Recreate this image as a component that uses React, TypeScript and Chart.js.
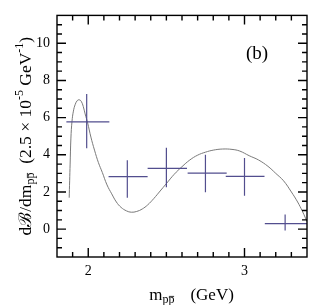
import { useEffect, useRef } from 'react';
import { Chart, registerables } from 'chart.js';

Chart.register(...registerables);

// Fitted curve
const curveX = [1.878, 1.881, 1.884, 1.889, 1.896, 1.905, 1.917, 1.93, 1.942, 1.955, 1.968, 1.98, 1.996, 2.017, 2.04, 2.065, 2.09, 2.12, 2.15, 2.18, 2.21, 2.245, 2.275, 2.31, 2.345, 2.38, 2.42, 2.46, 2.5, 2.55, 2.6, 2.65, 2.7, 2.75, 2.8, 2.86, 2.92, 2.97, 3.03, 3.09, 3.15, 3.2, 3.25, 3.3, 3.34, 3.37, 3.39, 3.4];
const curveY = [1.69, 2.6, 3.5, 4.9, 5.8, 6.35, 6.72, 6.92, 6.96, 6.88, 6.6, 6.2, 5.72, 4.95, 4.25, 3.58, 3.05, 2.38, 1.9, 1.46, 1.17, 0.98, 0.91, 0.95, 1.08, 1.3, 1.65, 2.05, 2.45, 2.95, 3.36, 3.72, 3.98, 4.14, 4.25, 4.31, 4.29, 4.2, 3.95, 3.72, 3.38, 3.0, 2.6, 2.0, 1.46, 0.97, 0.6, 0.4];

// Data points with error bars
const binCenter = [1.99, 2.25, 2.5, 2.75, 3.0, 3.26];
const binValue = [5.77, 2.82, 3.27, 3.01, 2.84, 0.3];
const binLow = [1.86, 2.13, 2.38, 2.636, 2.88, 3.13];
const binHigh = [2.135, 2.38, 2.632, 2.886, 3.128, 3.4];
const errLow = [4.35, 1.69, 2.25, 1.98, 1.8, -0.08];
const errHigh = [7.27, 3.7, 4.38, 4.0, 3.83, 0.79];

// Axes
const xMin = 1.8;
const xMax = 3.4;
const yMin = -1.5;
const yMax = 11.5;
const xMajorStep = 1;
const xMinorStep = 0.1;
const yMajorStep = 2;
const yMinorStep = 0.5;

const SERIF = "'Liberation Serif', 'DejaVu Serif', serif";

function drawSub(ctx: CanvasRenderingContext2D, x: number, y: number, size: number) {
  ctx.font = `${size}px ${SERIF}`;
  const w1 = ctx.measureText('p').width;
  ctx.fillText('pp', x, y);
  const w = ctx.measureText('pp').width;
  ctx.save();
  ctx.lineWidth = 0.8;
  ctx.beginPath();
  const by = y - size * 0.55;
  ctx.moveTo(x + w1 + 0.5, by);
  ctx.lineTo(x + w - 0.3, by);
  ctx.stroke();
  ctx.restore();
  return w;
}

const decorPlugin = {
  id: 'decor',
  afterDatasetsDraw(chart: any) {
    const { ctx, chartArea: a, scales } = chart;
    const x = scales.x;
    const y = scales.y;
    ctx.save();
    ctx.beginPath();
    ctx.rect(a.left, a.top, a.right - a.left, a.bottom - a.top);
    ctx.clip();
    ctx.strokeStyle = '#524e8e';
    ctx.lineWidth = 1.2;
    for (let i = 0; i < binCenter.length; i++) {
      const cx = x.getPixelForValue(binCenter[i]);
      const cy = y.getPixelForValue(binValue[i]);
      ctx.beginPath();
      ctx.moveTo(x.getPixelForValue(binLow[i]), cy);
      ctx.lineTo(x.getPixelForValue(binHigh[i]), cy);
      ctx.moveTo(cx, y.getPixelForValue(errLow[i]));
      ctx.lineTo(cx, y.getPixelForValue(errHigh[i]));
      ctx.stroke();
    }
    ctx.restore();
  },
  afterDraw(chart: any) {
    const { ctx, chartArea: a, scales } = chart;
    const x = scales.x;
    const y = scales.y;
    ctx.save();
    ctx.strokeStyle = '#000';
    ctx.lineWidth = 1.4;
    ctx.strokeRect(a.left, a.top, a.right - a.left, a.bottom - a.top);
    ctx.beginPath();
    const nx = Math.round((xMax - xMin) / xMinorStep);
    for (let i = 1; i < nx; i++) {
      const v = xMin + i * xMinorStep;
      const major = Math.abs(v / xMajorStep - Math.round(v / xMajorStep)) < 1e-6;
      const len = major ? 9 : 5;
      const px = x.getPixelForValue(v);
      ctx.moveTo(px, a.bottom);
      ctx.lineTo(px, a.bottom - len);
      ctx.moveTo(px, a.top);
      ctx.lineTo(px, a.top + len);
    }
    const ny = Math.round((yMax - yMin) / yMinorStep);
    for (let i = 1; i < ny; i++) {
      const v = yMin + i * yMinorStep;
      const major = Math.abs(v / yMajorStep - Math.round(v / yMajorStep)) < 1e-6;
      const len = major ? 9 : 5;
      const py = y.getPixelForValue(v);
      ctx.moveTo(a.left, py);
      ctx.lineTo(a.left + len, py);
      ctx.moveTo(a.right, py);
      ctx.lineTo(a.right - len, py);
    }
    ctx.stroke();

    ctx.fillStyle = '#000';
    ctx.strokeStyle = '#000';
    ctx.textBaseline = 'alphabetic';
    ctx.textAlign = 'left';

    // panel label
    ctx.font = `19px ${SERIF}`;
    ctx.textAlign = 'center';
    ctx.fillText('(b)', 257, 59);
    ctx.textAlign = 'left';

    // x title
    const fs = 17;
    const ss = 12;
    ctx.font = `${fs}px ${SERIF}`;
    const wm = ctx.measureText('m').width;
    ctx.font = `${ss}px ${SERIF}`;
    const wsub = ctx.measureText('pp').width;
    ctx.font = `${fs}px ${SERIF}`;
    const wg = ctx.measureText('(GeV)').width;
    const gapX = 16;
    const totX = wm + wsub + gapX + wg;
    let sx = 191.5 - totX / 2;
    const by = 300;
    ctx.fillText('m', sx, by);
    sx += wm;
    drawSub(ctx, sx, by + 3, ss);
    sx += wsub + gapX;
    ctx.font = `${fs}px ${SERIF}`;
    ctx.fillText('(GeV)', sx, by);

    // y title (rotated)
    const yfs = 17.5;
    ctx.save();
    ctx.translate(31, (a.top + a.bottom) / 2);
    ctx.rotate(-Math.PI / 2);
    const parts: { t: string; kind: 'n' | 'sub' | 'sup' }[] = [
      { t: 'd\u212C/dm', kind: 'n' },
      { t: 'pp', kind: 'sub' },
      { t: '  (2.5 \u00D7 10', kind: 'n' },
      { t: '-5', kind: 'sup' },
      { t: ' GeV', kind: 'n' },
      { t: '-1', kind: 'sup' },
      { t: ')', kind: 'n' },
    ];
    const widths = parts.map((p) => {
      ctx.font = `${p.kind === 'n' ? yfs : ss}px ${SERIF}`;
      return ctx.measureText(p.t).width;
    });
    const tot = widths.reduce((s, w) => s + w, 0);
    let px = -tot / 2;
    parts.forEach((p, i) => {
      if (p.kind === 'n') {
        ctx.font = `${yfs}px ${SERIF}`;
        ctx.fillText(p.t, px, 0);
      } else if (p.kind === 'sub') {
        drawSub(ctx, px, 3, ss);
      } else {
        ctx.font = `${ss}px ${SERIF}`;
        ctx.fillText(p.t, px, -8);
      }
      px += widths[i];
    });
    ctx.restore();
    ctx.restore();
  },
};

export default function App() {
  const ref = useRef<HTMLCanvasElement | null>(null);
  useEffect(() => {
    document.body.style.margin = '0';
    const canvas = ref.current;
    if (!canvas) return;
    const chart = new Chart(canvas, {
      type: 'scatter',
      data: {
        datasets: [
          {
            label: 'fit',
            data: curveX.map((v, i) => ({ x: v, y: curveY[i] })),
            showLine: true,
            borderColor: '#7a7a7a',
            borderWidth: 1,
            pointRadius: 0,
            tension: 0.4,
            fill: false,
          },
          {
            label: 'data',
            data: binCenter.map((v, i) => ({ x: v, y: binValue[i] })),
            showLine: false,
            pointRadius: 0,
          },
        ],
      },
      options: {
        animation: false,
        responsive: false,
        events: [],
        layout: { padding: { top: 5, right: 7, left: 0, bottom: 0 } },
        plugins: { legend: { display: false }, tooltip: { enabled: false } },
        scales: {
          x: {
            type: 'linear',
            min: xMin,
            max: xMax,
            grid: { display: false, drawTicks: false },
            border: { display: false },
            ticks: {
              stepSize: xMajorStep,
              includeBounds: false,
              padding: 6,
              color: '#000',
              font: { family: SERIF, size: 14 },
              maxRotation: 0,
            },
            afterFit: (s: any) => {
              s.height = 48;
            },
          },
          y: {
            type: 'linear',
            min: yMin,
            max: yMax,
            grid: { display: false, drawTicks: false },
            border: { display: false },
            ticks: {
              stepSize: yMajorStep,
              includeBounds: false,
              padding: 7,
              color: '#000',
              font: { family: SERIF, size: 14 },
            },
            afterFit: (s: any) => {
              s.width = 57;
            },
          },
        },
      },
      plugins: [decorPlugin],
    });
    return () => chart.destroy();
  }, []);
  return (
    <div style={{ width: 314, height: 305 }}>
      <canvas ref={ref} width={314} height={305} style={{ display: 'block' }} />
    </div>
  );
}
